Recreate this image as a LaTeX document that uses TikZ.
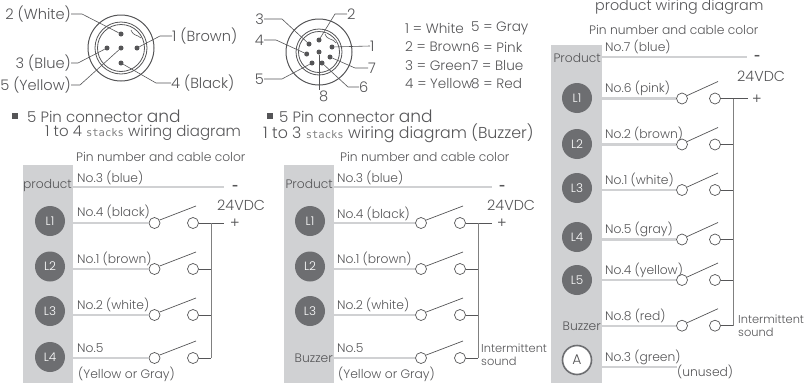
\documentclass[tikz,border=0pt]{standalone}
\usepackage{fontspec}
\setmainfont{Poppins}[UprightFont={* Light},BoldFont={* Light},ItalicFont={* Light}]
\newfontfamily\stackfont{DejaVu Sans Mono}
\newfontfamily\symfont{DejaVu Sans}
\definecolor{ink}{HTML}{555557}
\definecolor{barc}{HTML}{D0D1D3}
\definecolor{lampc}{HTML}{6D6E71}
\tikzset{
  txt/.style={inner sep=0pt,text=ink,font=\fontsize{12.3}{12}\selectfont,anchor=west},
  rtxt/.style={txt,anchor=east},
  smalltxt/.style={txt,font=\fontsize{11.4}{12}\selectfont},
  pinlab/.style={txt,font=\fontsize{14.6}{15}\selectfont},
  rpinlab/.style={pinlab,anchor=east},
  legend/.style={txt,font=\fontsize{13.6}{14}\selectfont},
  big/.style={txt,font=\fontsize{15}{15}\selectfont},
  volt/.style={txt,font=\fontsize{14.4}{15}\selectfont},
  sym/.style={inner sep=0pt,text=ink,font=\symfont\fontsize{12}{12}\selectfont},
  lamp/.style={circle,fill=lampc,draw=none,minimum size=30pt,inner sep=0pt,text=white,font=\fontsize{12}{12}\selectfont},
  lampw/.style={circle,fill=white,draw=lampc,line width=1.6pt,minimum size=29pt,inner sep=0pt,text=ink,font=\fontsize{14}{14}\selectfont},
  wire/.style={draw=barc,line width=2.2pt},
  contact/.style={circle,draw=ink,fill=white,line width=.7pt,minimum size=11pt,inner sep=0pt},
  blade/.style={draw=ink,line width=.7pt},
  thin/.style={draw=ink,line width=.7pt},
  bus/.style={draw=gray,line width=1pt},
  pin/.style={circle,fill=ink,minimum size=5pt,inner sep=0pt},
  lead/.style={draw=ink,line width=.6pt},
  ring/.style={circle,draw=ink,inner sep=0pt},
}
\usetikzlibrary{calc}
% id, bar edge x, left contact x, right contact x, y, bus x
\newcommand{\swrow}[6]{%
  \coordinate (#1w) at (#2,#5);
  \node[contact] (#1a) at (#3,#5) {};
  \node[contact] (#1b) at (#4,#5) {};
  \coordinate (#1t) at ($(#4,#5)+(3,-17)$);
  \coordinate (#1v) at (#6,#5);
  \draw[wire] (#1w) -- (#1a);
  \draw[blade] (#1a.30) -- (#1t);
  \draw[thin] (#1b) -- (#1v);
}
\newcommand{\stk}[1]{{\stackfont\fontsize{10.5}{12}\selectfont\color{gray}#1}}
\begin{document}
\begin{tikzpicture}[x=1pt,y=-1pt]
\useasboundingbox (0,0) rectangle (807,383);
% ---------- connector 1
\node[ring,minimum size=66pt,line width=1pt] (c1o) at (121,48) {};
\node[ring,minimum size=52pt,line width=.8pt] (c1m) at (121,48) {};
\node[ring,minimum size=47pt,line width=.8pt] (c1i) at (121,48) {};
\draw[draw=white,line width=1.5pt] (130,30) -- (141,39);
\draw[lead] (131,30) .. controls (134,37) and (137,34) .. (141,38);
\node[pin] (p2) at (121,34) {};
\node[pin] (p3) at (107,48) {};
\node[pin] (p5) at (121,48) {};
\node[pin] (p1) at (137,48) {};
\node[pin] (p4) at (121,63) {};
\node[rpinlab] (l2) at (71,14) {2 (White)};
\node[rpinlab] (l3) at (71,63) {3 (Blue)};
\node[rpinlab] (l5) at (71,85) {5 (Yellow)};
\node[pinlab] (l1) at (172,36) {1 (Brown)};
\node[pinlab] (l4) at (171,83) {4 (Black)};
\draw[lead] (l2.east) -- ++(11,0) -- (p2);
\draw[lead] (l3.east) -- ++(7,0) -- (p3);
\draw[lead] (l5.east) -- ++(9,0) -- (p5);
\draw[lead] (l1.west) -- ++(-12,0) -- (p1);
\draw[lead] (l4.west) -- ++(-15,0) -- (p4);
% ---------- connector 2
\node[ring,minimum size=66pt,line width=1pt] (c2o) at (319,52) {};
\node[ring,minimum size=46pt,line width=.8pt] (c2m) at (319,52) {};
\node[ring,minimum size=41pt,line width=.8pt] (c2i) at (319,52) {};
\draw[draw=white,line width=1.5pt] (326,34) -- (336,42);
\draw[lead] (325,34) .. controls (328,41) and (331,37) .. (336,43);
\node[pin] (q2) at (319,40) {};
\node[pin] (q3) at (309,44) {};
\node[pin] (q4) at (306.7,54) {};
\node[pin] (q5) at (312,63) {};
\node[pin] (q0) at (319,52) {};
\node[pin] (q6) at (322,63) {};
\node[pin] (q7) at (330,57) {};
\node[pin] (q1) at (332,47) {};
\node[rpinlab] (m3) at (264,19) {3};
\node[rpinlab] (m4) at (264,40) {4};
\node[rpinlab] (m5) at (264,79) {5};
\node[pinlab] (m2) at (347,14) {2};
\node[pinlab] (m1) at (370,46) {1};
\node[pinlab] (m7) at (368,68) {7};
\node[pinlab] (m6) at (359,87) {6};
\node[pinlab] (m8) at (319,96) {8};
\draw[lead] (m3.east) -- ++(18,0) -- (q3);
\draw[lead] (m4.east) -- ++(12,0) -- (q4);
\draw[lead] (m5.east) -- ++(18,0) -- (q5);
\draw[lead] (m2.west) -- ++(-12,0) -- (q2);
\draw[lead] (m1.west) -- (q1);
\draw[lead] (m7.west) -- ++(-13,0) -- (q7);
\draw[lead] (m6.west) -- ++(-11,0) -- (q6);
\draw[lead] (q0) -- (m8.north west);
% ---------- legend
\node[legend] (a1) at (405,28) {1 = White};
\node[legend] (a2) at (405,47) {2 = Brown};
\node[legend] (a3) at (405,66) {3 = Green};
\node[legend] (a4) at (405,84) {4 = Yellow};
\node[legend] (b1) at (471,28) {5 = Gray};
\node[legend] (b2) at (471,47) {6 = Pink};
\node[legend] (b3) at (471,66) {7 = Blue};
\node[legend] (b4) at (471,84) {8 = Red};
% ---------- headings
\fill[ink] (12,113) rectangle ++(6,6);
\fill[ink] (267,113) rectangle ++(6,6);
\node[big] (h1) at (27,116) {5 Pin connector {\fontsize{17}{16}\selectfont and}};
\node[big] (h2) at (45,133) {1 to 4 \stk{stacks} wiring diagram};
\node[big] (h3) at (279,116) {5 Pin connector {\fontsize{17}{16}\selectfont and}};
\node[big,font=\fontsize{15.8}{15}\selectfont] (h4) at (263,133) {1 to 3 \stk{stacks} wiring diagram (Buzzer)};
\node[big,font=\fontsize{14.3}{15}\selectfont] (h5) at (595,7) {product wiring diagram};
% ---------- panel 1
\fill[barc] (23,165) rectangle (73,383);
\node[txt] (pn1) at (76,157) {Pin number and cable color};
\node[rtxt] (pr1) at (72,186) {product};
\coordinate (n1w) at (73,187); \coordinate (n1e) at (224,187);
\draw[wire] (n1w) -- (n1e);
\node[sym] (minus1) at (235,187) {\textbf{–}};
\node[volt] (v1) at (217,205) {24VDC};
\node[lamp] (A1) at (50,221) {L1};
\node[lamp] (A2) at (50,266.5) {L2};
\node[lamp] (A3) at (50,311) {L3};
\node[lamp] (A4) at (50,357) {L4};
\swrow{r1}{73}{154.5}{193}{223}{211}
\swrow{r2}{73}{154.5}{193}{269}{211}
\swrow{r3}{73}{154.5}{193}{315}{211}
\swrow{r4}{73}{154.5}{193}{358}{211}
\coordinate (r1e) at (224,223);
\draw[thin] (r1v) -- (r1e);
\draw[bus] (r1v) -- (r4v);
\node[sym] (plus1) at (235,223) {+};
\node[txt] (t11) at (77,178) {No.3 (blue)};
\node[txt] (t12) at (77,212) {No.4 (black)};
\node[txt] (t13) at (77,259) {No.1 (brown)};
\node[txt] (t14) at (77,305) {No.2 (white)};
\node[txt] (t15) at (77,348) {No.5};
\node[txt] (t16) at (78,374) {(Yellow or Gray)};
% ---------- panel 2
\fill[barc] (284,165) rectangle (334,383);
\node[txt] (pn2) at (340,157) {Pin number and cable color};
\node[rtxt] (pr2) at (333,184) {Product};
\coordinate (n2w) at (334,187); \coordinate (n2e) at (492,187);
\draw[wire] (n2w) -- (n2e);
\node[sym] (minus2) at (502,187) {\textbf{–}};
\node[volt] (v2) at (487,205) {24VDC};
\node[lamp] (B1) at (310,221) {L1};
\node[lamp] (B2) at (310,266.5) {L2};
\node[lamp] (B3) at (310,311) {L3};
\node[rtxt] (B4) at (333,358) {Buzzer};
\swrow{s1}{334}{421}{460}{223}{478}
\swrow{s2}{334}{421}{460}{269}{478}
\swrow{s3}{334}{421}{460}{315}{478}
\swrow{s4}{334}{421}{460}{358}{478}
\coordinate (s1e) at (492,223);
\draw[thin] (s1v) -- (s1e);
\draw[bus,line width=.8pt] (s1v) -- (s4v);
\node[sym] (plus2) at (502,223) {+};
\node[txt] (t21) at (337,178) {No.3 (blue)};
\node[txt] (t22) at (337,214) {No.4 (black)};
\node[txt] (t23) at (337,259) {No.1 (brown)};
\node[txt] (t24) at (337,305) {No.2 (white)};
\node[txt] (t25) at (337,348) {No.5};
\node[txt] (t26) at (338,374) {(Yellow or Gray)};
\node[smalltxt] (i21) at (481,348) {Intermittent};
\node[smalltxt] (i22) at (481,361) {sound};
% ---------- panel 3
\fill[barc] (551,45) rectangle (602,383);
\node[txt] (pn3) at (589,30) {Pin number and cable color};
\node[rtxt] (pr3) at (601,58) {Product};
\coordinate (n3w) at (602,57); \coordinate (n3e) at (747,57);
\draw[wire] (n3w) -- (n3e);
\node[sym] (minus3) at (757,57) {\textbf{–}};
\node[volt] (v3) at (737,76) {24VDC};
\node[lamp] (C1) at (577,98) {L1};
\node[lamp] (C2) at (577,144) {L2};
\node[lamp] (C3) at (577,188) {L3};
\node[lamp] (C4) at (577,237) {L4};
\node[lamp] (C5) at (577,280) {L5};
\node[rtxt] (C6) at (601,326) {Buzzer};
\node[lampw] (C7) at (577,360) {A};
\swrow{u1}{602}{682}{715}{98.5}{733.7}
\swrow{u2}{602}{682}{715}{144.5}{733.7}
\swrow{u3}{602}{682}{715}{190}{733.7}
\swrow{u4}{602}{682}{715}{239.5}{733.7}
\swrow{u5}{602}{682}{715}{280}{733.7}
\swrow{u6}{602}{682}{715}{325.7}{733.7}
\coordinate (u1e) at (748,98.5);
\draw[thin] (u1v) -- (u1e);
\draw[bus] (u1v) -- (u6v);
\node[sym] (plus3) at (757,98.5) {+};
\coordinate (a3w) at (602,367); \coordinate (a3e) at (677,367);
\draw[wire] (a3w) -- (a3e);
\node[txt] (t31) at (605,47) {No.7 (blue)};
\node[txt] (t32) at (605,88) {No.6 (pink)};
\node[txt] (t33) at (605,134) {No.2 (brown)};
\node[txt] (t34) at (605,180) {No.1 (white)};
\node[txt] (t35) at (605,229) {No.5 (gray)};
\node[txt] (t36) at (605,270) {No.4 (yellow)};
\node[txt] (t37) at (605,316) {No.8 (red)};
\node[txt] (t38) at (605,357) {No.3 (green)};
\node[txt] (t39) at (677,372) {(unused)};
\node[smalltxt] (i31) at (738,319) {Intermittent};
\node[smalltxt] (i32) at (738,332) {sound};
\end{tikzpicture}
\end{document}
